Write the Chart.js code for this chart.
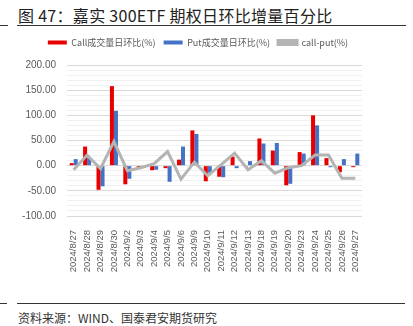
<!DOCTYPE html>
<html>
<head>
<meta charset="utf-8">
<script src="https://cdn.jsdelivr.net/npm/chart.js@4.4.0/dist/chart.umd.min.js"></script>
<style>
  html, body { margin: 0; padding: 0; background: #fff; }
  body { width: 413px; height: 326px; position: relative; overflow: hidden; font-family: "Noto Sans CJK SC", sans-serif; }
  #title { position: absolute; left: 18px; top: 3px; font-size: 16px; color: #222; letter-spacing: 0.3px; white-space: nowrap; }
  .rule { position: absolute; height: 1px; background: #333; }
  #source { position: absolute; left: 18px; top: 309px; font-size: 12px; color: #333; white-space: nowrap; }
  #box { position: absolute; left: 0; top: 30px; width: 413px; height: 244px; }
</style>
</head>
<body>
<div id="title">图 47：嘉实 300ETF 期权日环比增量百分比</div>
<div class="rule" style="left:0;width:8px;top:25px"></div>
<div class="rule" style="left:17px;width:389px;top:25px"></div>
<div id="box"><canvas id="myChart"></canvas></div>
<div class="rule" style="left:0;width:7px;top:303px"></div>
<div class="rule" style="left:17px;width:388px;top:303px"></div>
<div id="source">资料来源：WIND、国泰君安期货研究</div>
<script>
const dates = ['2024/8/27', '2024/8/28', '2024/8/29', '2024/8/30', '2024/9/2', '2024/9/3', '2024/9/4', '2024/9/5',
    '2024/9/6', '2024/9/9', '2024/9/10', '2024/9/11', '2024/9/12', '2024/9/13', '2024/9/18', '2024/9/19',
    '2024/9/20', '2024/9/23', '2024/9/24', '2024/9/25', '2024/9/26', '2024/9/27'];
const callPct = [5, 38, -48, 158, -37, -3, -9, -5, 12, 70, -31, -22, 18, -2, 54, 30, -39, 27, 100, 15, -13, -3];
const putPct = [13, 16, -41, 109, -26, 1, -8, -32, 38, 63, -14, -23, -5, 9, 44, 45, -36, 24, 80, -3, 13, 24];
const callMinusPut = [-8, 21, -6, 48, -10, -4, 4, 28, -27, 7, -20, 2, 25, -8, 10, -15, -4, 0, 21, 21, -25, -25];
const yMin = -100, yMax = 200;

// push the plot down a bit below the legend, and centre the legend on the page
const legendMargin = {
    id: 'legendMargin',
    beforeInit(chart) {
        const fit = chart.legend.fit;
        chart.legend.fit = function () {
            fit.bind(chart.legend)();
            this.height += 8;
        };
        const draw = chart.legend.draw;
        chart.legend.draw = function () {
            const c = this.ctx;
            c.save();
            c.translate(17, 0);
            draw.apply(this, arguments);
            c.restore();
        };
    }
};

const ctx = document.getElementById('myChart').getContext('2d');
const myChart = new Chart(ctx, {
    type: 'bar',
    data: {
        labels: dates,
        datasets: [{
                label: 'Call成交量日环比(%)',
                data: callPct,
                backgroundColor: '#E80000',
                categoryPercentage: 0.6,
                barPercentage: 1.0,
                order: 1
            },
            {
                label: 'Put成交量日环比(%)',
                data: putPct,
                backgroundColor: '#4472C4',
                categoryPercentage: 0.6,
                barPercentage: 1.0,
                order: 1
            },
            {
                type: 'line',
                label: 'call-put(%)',
                data: callMinusPut,
                borderColor: '#B4B4B4',
                backgroundColor: '#B4B4B4',
                borderWidth: 3,
                pointRadius: 0,
                tension: 0,
                order: 0
            }
        ]
    },
    options: {
        responsive: true,
        maintainAspectRatio: false,
        animation: false,
        layout: { padding: { left: 0, right: 51, top: 0, bottom: 0 } },
        plugins: {
            legend: {
                position: 'top',
                labels: {
                    boxWidth: 19,
                    boxHeight: 4,
                    padding: 8,
                    color: '#595959',
                    font: { size: 9, family: '"Noto Sans CJK SC", "Liberation Sans", sans-serif' },
                    sort: (a, b) => a.datasetIndex - b.datasetIndex
                }
            },
            tooltip: { enabled: false }
        },
        scales: {
            x: {
                grid: { display: false },
                border: { display: false },
                ticks: {
                    color: '#595959',
                    font: { size: 9.5, family: '"Liberation Sans", sans-serif' },
                    minRotation: 90,
                    maxRotation: 90,
                    autoSkip: false,
                    padding: 6
                },
                afterFit: (scale) => { scale.height = 58; }
            },
            y: {
                min: yMin,
                max: yMax,
                border: { display: false },
                grid: {
                    drawTicks: false,
                    color: (c) => (c.tick && c.tick.value % 50 === 0) ? '#D9D9D9' : '#F0F0F0'
                },
                ticks: {
                    stepSize: 10,
                    autoSkip: false,
                    padding: 11,
                    color: '#595959',
                    font: { size: 10, family: '"Liberation Sans", sans-serif' },
                    callback: (v) => (v % 50 === 0) ? v.toFixed(2) : ''
                },
                afterFit: (scale) => { scale.width = 67; }
            }
        }
    },
    plugins: [legendMargin]
});
</script>
</body>
</html>
